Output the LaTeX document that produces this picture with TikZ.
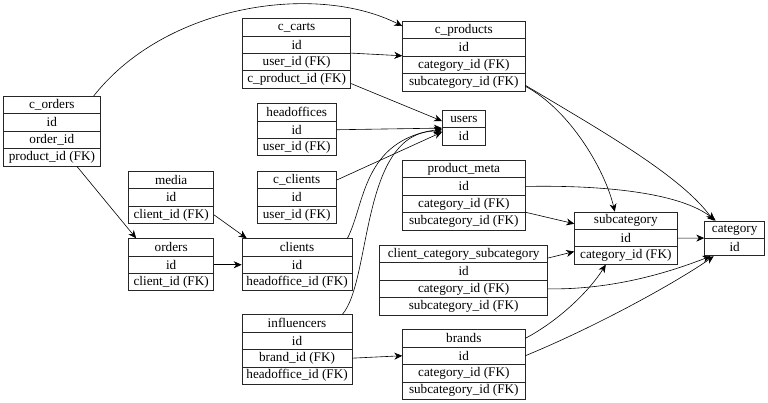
\documentclass[tikz,border=0pt]{standalone}
\usepackage{fontspec}
\setmainfont{Liberation Serif}
\usetikzlibrary{arrows.meta,positioning,calc}

% one table: name, left x, top y, width, rows (title first)
\newcommand{\dbtable}[5]{%
  \foreach \txt [count=\i from 0] in {#5}
    \node[tabrow,minimum width=#4pt,anchor=north west] (#1-\i) at (#2,{#3+\i*17.4}) {\txt};
}

\begin{document}
\begin{tikzpicture}[x=1pt,y=-1pt,>={Stealth[length=8pt,width=7pt,inset=2.5pt]},
  tabrow/.style={draw=black!85,fill=white,line width=0.7pt,minimum height=17.4pt,inner sep=0pt,
    font=\fontsize{13.2}{15}\selectfont},
  fk/.style={->,line width=0.6pt}]
  \useasboundingbox (0,0) rectangle (768,403);

  \dbtable{corders}{3}{96}{97}{c\_orders,id,order\_id,product\_id (FK)}
  \dbtable{media}{128.3}{171}{85}{media,id,client\_id (FK)}
  \dbtable{orders}{128.3}{238.3}{85}{orders,id,client\_id (FK)}
  \dbtable{ccarts}{242.3}{18.3}{108}{c\_carts,id,user\_id (FK),c\_product\_id (FK)}
  \dbtable{heads}{256.7}{103.3}{79.3}{headoffices,id,user\_id (FK)}
  \dbtable{cclients}{256.7}{171}{79.3}{c\_clients,id,user\_id (FK)}
  \dbtable{clients}{241.7}{238.3}{110}{clients,id,headoffice\_id (FK)}
  \dbtable{infl}{241.7}{314.3}{110}{influencers,id,brand\_id (FK),headoffice\_id (FK)}
  \dbtable{cproducts}{402.3}{21}{122.3}{c\_products,id,category\_id (FK),subcategory\_id (FK)}
  \dbtable{users}{442}{110}{43}{users,id}
  \dbtable{pmeta}{402.3}{160}{122.3}{product\_meta,id,category\_id (FK),subcategory\_id (FK)}
  \dbtable{subcat}{574.3}{211.7}{102.3}{subcategory,id,category\_id (FK)}
  \dbtable{cat}{704.3}{220.7}{60}{category,id}
  \dbtable{ccs}{379.3}{245}{168}{client\_category\_subcategory,id,category\_id (FK),subcategory\_id (FK)}
  \dbtable{brands}{402.3}{329.3}{122.3}{brands,id,category\_id (FK),subcategory\_id (FK)}

  % foreign keys
  \draw[fk] ([xshift=-7pt]corders-0.north east) .. controls (165,5) and (315,-18) .. ([yshift=4pt]cproducts-0.west);
  \draw[fk] ([xshift=25pt]corders-3.south) -- ([xshift=-35pt]orders-0.north);
  \draw[fk] (media-2.east) -- ([xshift=5pt]clients-0.north west);
  \draw[fk] (orders-1.east) -- (clients-1.west);
  \draw[fk] (ccarts-2.north east) -- (cproducts-2.north west);
  \draw[fk] ([yshift=-4pt]ccarts-3.east) -- ([yshift=-2pt]users-0.west);
  \draw[fk] (heads-1.east) -- (users-0.south west);
  \draw[fk] (cclients-0.east) -- ([yshift=-4pt]users-0.south west);
  \draw[fk] ([xshift=-5pt]clients-0.north east) .. controls (365,205) and (362,140) .. ([yshift=-1pt]users-0.south west);
  \draw[fk] ([xshift=-10pt]infl-0.north east) .. controls (372,280) and (360,130) .. ([yshift=-3pt]users-0.south west);
  \draw[fk] (infl-2.east) -- (brands-1.west);
  \draw[fk] ([yshift=-4pt]cproducts-3.east) .. controls (570,110) and (605,170) .. ([xshift=-11pt]subcat-0.north);
  \draw[fk] ([yshift=-3pt]cproducts-3.east) .. controls (600,130) and (680,175) .. ([xshift=-21pt]cat-0.north);
  \draw[fk] (pmeta-1.east) .. controls (600,185) and (680,192) .. ([xshift=-19pt]cat-0.north);
  \draw[fk] (pmeta-3.north east) -- ([yshift=-3pt]subcat-0.west);
  \draw[fk] ([yshift=-4pt]ccs-0.east) -- ([yshift=4pt]subcat-2.west);
  \draw[fk] (ccs-2.east) .. controls (620,290) and (680,268) .. ([xshift=-24pt]cat-1.south);
  \draw[fk] (subcat-1.east) -- (cat-1.north west);
  \draw[fk] (brands-0.east) .. controls (560,320) and (590,290) .. ([xshift=-20pt]subcat-2.south);
  \draw[fk] (brands-1.east) .. controls (600,325) and (680,280) .. ([xshift=-21pt]cat-1.south);
\end{tikzpicture}
\end{document}
